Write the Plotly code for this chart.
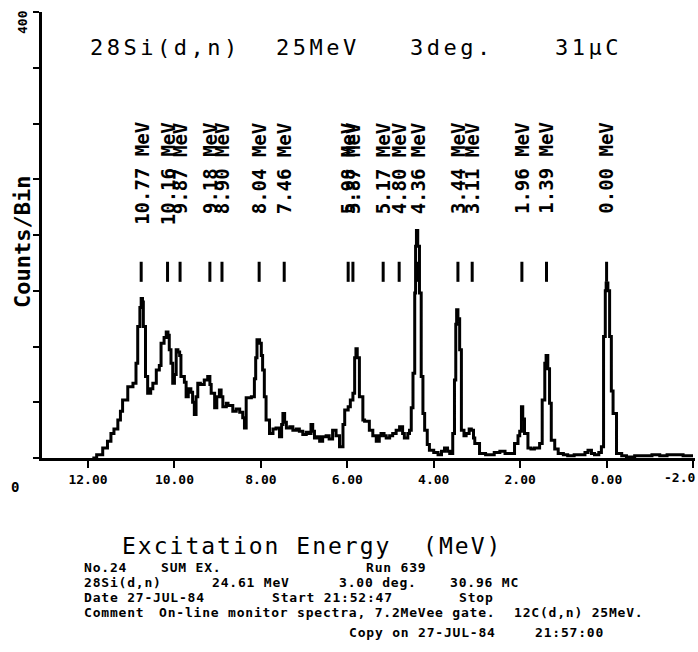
import plotly.graph_objects as go

# ---------------- data ----------------
energy = [11.90, 11.80, 11.66, 11.55, 11.47, 11.40, 11.31, 11.25, 11.20, 11.08, 10.96, 10.89,
          10.85, 10.80, 10.77, 10.74, 10.72, 10.67, 10.62, 10.55, 10.50, 10.42, 10.35, 10.31,
          10.24, 10.19, 10.15, 10.12, 10.08, 10.04, 10.00, 9.96, 9.92, 9.88, 9.85, 9.77, 9.73,
          9.68, 9.62, 9.58, 9.54, 9.50, 9.46, 9.40, 9.31, 9.23, 9.18, 9.15, 9.07, 9.02, 8.96,
          8.92, 8.88, 8.80, 8.76, 8.65, 8.57, 8.49, 8.42, 8.38, 8.34, 8.22, 8.15, 8.12, 8.09,
          8.03, 7.99, 7.96, 7.92, 7.88, 7.80, 7.72, 7.65, 7.57, 7.52, 7.49, 7.45, 7.41, 7.33,
          7.26, 7.18, 7.11, 7.03, 6.95, 6.88, 6.84, 6.80, 6.76, 6.70, 6.64, 6.57, 6.49, 6.42,
          6.34, 6.26, 6.18, 6.10, 6.06, 5.98, 5.93, 5.87, 5.83, 5.80, 5.77, 5.72, 5.64, 5.60,
          5.49, 5.41, 5.33, 5.26, 5.22, 5.15, 5.10, 5.02, 4.95, 4.87, 4.79, 4.72, 4.68, 4.60,
          4.56, 4.52, 4.48, 4.44, 4.42, 4.40, 4.37, 4.33, 4.29, 4.25, 4.21, 4.15, 4.10, 4.00,
          3.90, 3.82, 3.75, 3.68, 3.63, 3.56, 3.52, 3.49, 3.47, 3.44, 3.40, 3.36, 3.30, 3.25,
          3.18, 3.13, 3.08, 3.05, 2.94, 2.80, 2.70, 2.60, 2.47, 2.35, 2.24, 2.13, 2.05, 2.01,
          1.97, 1.94, 1.90, 1.82, 1.75, 1.67, 1.55, 1.49, 1.43, 1.40, 1.36, 1.32, 1.28, 1.20,
          1.12, 1.00, 0.90, 0.75, 0.59, 0.50, 0.43, 0.35, 0.28, 0.18, 0.12, 0.07, 0.03, 0.01,
          -0.03, -0.07, -0.11, -0.15, -0.23, -0.35, -0.46, -0.65, -0.85, -1.05, -1.23, -1.40,
          -1.54, -1.77, -2.00]
counts = [0, 3, 9, 15, 22, 26, 34, 42, 52, 64, 67, 85,
          118, 135, 143, 140, 118, 73, 58, 62, 67, 79, 83, 103,
          108, 113, 110, 97, 85, 67, 75, 97, 95, 92, 73, 68, 55,
          62, 59, 50, 39, 55, 67, 66, 70, 73, 66, 58, 45, 55, 61,
          55, 46, 49, 47, 42, 44, 41, 36, 27, 54, 55, 71, 90, 106,
          103, 92, 79, 55, 34, 22, 26, 27, 19, 30, 40, 32, 27, 28,
          25, 26, 24, 21, 23, 22, 30, 24, 18, 19, 15, 19, 20, 17,
          25, 20, 10, 30, 43, 46, 52, 58, 90, 98, 90, 55, 34, 33,
          25, 20, 15, 20, 22, 20, 18, 20, 22, 25, 28, 22, 18, 22,
          25, 45, 76, 148, 190, 204, 190, 148, 73, 40, 25, 12, 7, 5,
          3, 6, 9, 6, 4, 22, 70, 120, 133, 125, 97, 25, 20, 22,
          26, 25, 18, 13, 4, 3, 3, 5, 6, 4, 4, 13, 20, 24,
          46, 35, 22, 9, 8, 9, 13, 52, 85, 92, 80, 49, 16, 8,
          4, 3, 2, 3, 3, 5, 7, 4, 3, 5, 10, 109, 150, 157,
          150, 109, 60, 40, 4, 2, 1, 2, 2, 3, 2, 3,
          3, 2, 2]

level_energies = [10.77, 10.16, 9.87, 9.18, 8.90, 8.04, 7.46, 5.98, 5.87,
                  5.17, 4.80, 4.36, 3.44, 3.11, 1.96, 1.39, 0.00]
level_labels = ["%.2f MeV" % e for e in level_energies]

x_tickvals = [12, 10, 8, 6, 4, 2, 0, -2]
x_ticktext = ["12.00", "10.00", "8.00", "6.00", "4.00", "2.00", "0.00", "-2.0"]
y_tickvals = [0, 50, 100, 150, 200, 250, 300, 350, 400]

title_words = ["28Si(d,n)", "25MeV", "3deg.", "31\u03bcC"]
footer_lines = [
    ["No.24", "SUM EX.", "Run 639"],
    ["28Si(d,n)", "24.61 MeV", "3.00 deg.", "30.96 MC"],
    ["Date 27-JUL-84", "Start 21:52:47", "Stop"],
    ["Comment", "On-line monitor spectra, 7.2MeVee gate.", "12C(d,n) 25MeV."],
    ["Copy on 27-JUL-84", "21:57:00"],
]

# ---------------- layout geometry ----------------
W, H = 698, 652
L, R, T, B = 42, 3, 12, 194
PW, PH = W - L - R, H - T - B


def pxx(x):
    return (x - L) / PW


def pxy(y):
    return (H - B - y) / PH


MONO = "DejaVu Sans Mono"

fig = go.Figure()
fig.add_trace(go.Scatter(x=energy, y=counts, mode="lines", line_shape="hv",
                         line=dict(color="black", width=3), hoverinfo="skip"))

shapes = []
annotations = []
for e, lab in zip(level_energies, level_labels):
    shapes.append(dict(type="line", xref="x", yref="y", x0=e, x1=e, y0=158, y1=176,
                       line=dict(color="black", width=3)))
    annotations.append(dict(x=e, y=303, xref="x", yref="y", text=lab, showarrow=False,
                            textangle=-90, xanchor="center", yanchor="top",
                            font=dict(family=MONO, size=19, color="black", weight="bold")))

# title words
title_x = [165, 318, 452, 588]
for w, cx in zip(title_words, title_x):
    annotations.append(dict(x=pxx(cx), y=pxy(47), xref="paper", yref="paper",
                            text='<span style="letter-spacing:3.5px">%s</span>' % w,
                            showarrow=False, xanchor="center", yanchor="middle",
                            font=dict(family=MONO, size=22, color="black")))

# axis titles and end labels
annotations.append(dict(x=pxx(23), y=pxy(242), xref="paper", yref="paper", text="Counts/Bin",
                        showarrow=False, textangle=-90, xanchor="center", yanchor="middle",
                        font=dict(family=MONO, size=22, color="black", weight="bold")))
annotations.append(dict(x=pxx(312), y=pxy(546), xref="paper", yref="paper",
                        text='<span style="letter-spacing:2px">Excitation Energy  (MeV)</span>',
                        showarrow=False, xanchor="center", yanchor="middle",
                        font=dict(family=MONO, size=23, color="black")))
annotations.append(dict(x=pxx(23), y=pxy(22), xref="paper", yref="paper", text="400",
                        showarrow=False, textangle=-90, xanchor="center", yanchor="middle",
                        font=dict(family=MONO, size=13, color="black", weight="bold")))
annotations.append(dict(x=pxx(15), y=pxy(487), xref="paper", yref="paper", text="0",
                        showarrow=False, xanchor="center", yanchor="middle",
                        font=dict(family=MONO, size=14, color="black", weight="bold")))
# last x tick label sits flush with the right page edge (as in the reference)
annotations.append(dict(x=pxx(697), y=pxy(478), xref="paper", yref="paper",
                        text=x_ticktext[-1], showarrow=False, xanchor="right",
                        yanchor="middle",
                        font=dict(family=MONO, size=13, color="black", weight="bold")))
axis_ticktext = x_ticktext[:-1] + [""]

# footer
footer_x = [[82, 159, 364], [82, 210, 337, 448], [82, 270, 457], [82, 157, 512], [347, 533]]
footer_y = [567, 582, 597, 612, 632]
for words, xs, yy in zip(footer_lines, footer_x, footer_y):
    for w, xx in zip(words, xs):
        annotations.append(dict(x=pxx(xx), y=pxy(yy), xref="paper", yref="paper",
                                text='<span style="letter-spacing:0.8px">%s</span>' % w,
                                showarrow=False, xanchor="left", yanchor="middle",
                                font=dict(family=MONO, size=13, color="black", weight="bold")))

fig.update_layout(
    width=W, height=H, margin=dict(l=L, r=R, t=T, b=B, autoexpand=False),
    paper_bgcolor="white", plot_bgcolor="white", showlegend=False,
    shapes=shapes, annotations=annotations,
    xaxis=dict(range=[13.065, -2.046], showgrid=False, zeroline=False, showline=True,
               linecolor="black", linewidth=3, ticks="outside", ticklen=7, tickwidth=2,
               tickcolor="black", tickvals=x_tickvals, ticktext=axis_ticktext,
               tickfont=dict(family=MONO, size=13, color="black", weight="bold")),
    yaxis=dict(range=[0, 400], showgrid=False, zeroline=False, showline=True,
               linecolor="black", linewidth=3, ticks="outside", ticklen=6, tickwidth=2,
               tickcolor="black", tickvals=y_tickvals, showticklabels=False),
)

fig.write_html("out.html")
